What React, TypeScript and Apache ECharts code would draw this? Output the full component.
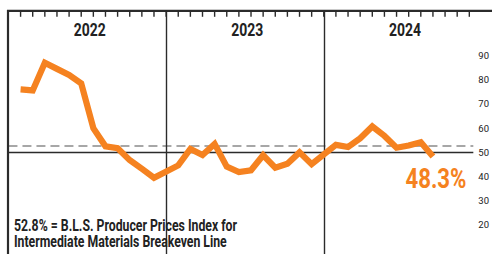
import React, { useEffect, useRef } from "react";
import * as echarts from "echarts";

const years = ["2022", "2023", "2024"];
const values2022 = [76.0, 75.6, 87.0, 84.5, 82.0, 78.5, 60.0, 52.5, 51.7, 46.8, 43.2, 39.5];
const values2023 = [44.6, 51.4, 48.9, 53.5, 44.1, 41.9, 42.6, 48.8, 43.7, 45.3, 50.0, 45.1];
const values2024 = [53.1, 52.2, 55.8, 60.7, 56.8, 51.9, 52.8, 54.2, 48.3];
const breakeven = 52.8;
const baseline = 50;
const yLabels = [20, 30, 40, 50, 60, 70, 80, 90];
const noteText = ["52.8% = B.L.S. Producer Prices Index for", "Intermediate Materials Breakeven Line"];

const SLOTS_PER_YEAR = 13; // year divider + 12 months
const TICK_COUNT = 38;
const ORANGE = "#F58220";
const DARK = "#2b2b2b";
const FONT = "Roboto, 'Liberation Sans', sans-serif";
const V_FIX = 3; // middle-align correction
const Y_MIN = 8;
const Y_MAX = 108.5;
const TICK_PX = 6;

function measure(text: string, font: string): number {
  const c = document.createElement("canvas").getContext("2d");
  if (!c) return text.length * 8;
  c.font = font;
  return c.measureText(text).width;
}

export default function App() {
  const ref = useRef<HTMLDivElement>(null);
  useEffect(() => {
    if (!ref.current) return;
    const chart = echarts.init(ref.current, null, { renderer: "svg" });
    const byYear = [values2022, values2023, values2024];
    const lineData: [number, number][] = [];
    byYear.forEach((vals, yi) => {
      vals.forEach((v, mi) => lineData.push([yi * SLOTS_PER_YEAR + mi + 1, v]));
    });
    const last = lineData[lineData.length - 1];
    const dividers = years.slice(1).map((_, i) => (i + 1) * SLOTS_PER_YEAR);

    chart.setOption({
      animation: false,
      backgroundColor: "#ffffff",
      grid: { left: 8.45, top: 10.8, width: 469.5, bottom: 0, containLabel: false },
      xAxis: {
        type: "value",
        min: 0,
        max: 38.33,
        show: false,
      },
      yAxis: {
        type: "value",
        position: "right",
        min: Y_MIN,
        max: Y_MAX,
        axisLine: { show: false },
        axisTick: { show: false },
        splitLine: { show: false },
        axisLabel: {
          show: true,
          margin: 5,
          align: "left",
          customValues: yLabels,
          fontFamily: FONT,
          fontSize: 9.5,
          color: "#222",
        },
      },
      series: [
        {
          type: "line",
          data: lineData,
          symbol: "none",
          lineStyle: { color: ORANGE, width: 6.2, join: "miter", cap: "butt" },
          z: 5,
          markLine: {
            silent: true,
            symbol: "none",
            label: { show: false },
            data: [
              { yAxis: baseline, lineStyle: { color: DARK, width: 1.3, type: "solid" } },
              { yAxis: breakeven, lineStyle: { color: "#8a8a8a", width: 1.6, type: [9, 5] } },
              ...dividers.map((d) => ({ xAxis: d, lineStyle: { color: DARK, width: 1.4, type: "solid" } })),
            ],
          },
        },
      ],
    });

    const yearFont = `bold 18px ${FONT}`;
    const yearScale = 32 / measure("2022", yearFont);
    const bigFont = `bold 28px ${FONT}`;
    const bigText = `${last[1]}%`;
    const bigScale = 61 / measure(bigText, bigFont);
    const noteFont = `bold 16px ${FONT}`;
    const noteScale = 223 / measure(noteText[0], noteFont);

    const yearEls = years.map((y, i) => {
      const [px] = chart.convertToPixel({ gridIndex: 0 }, [i * SLOTS_PER_YEAR + 6.7, 50]) as number[];
      return {
        type: "text",
        x: px,
        y: 27 + V_FIX,
        scaleX: yearScale,
        z: 10,
        style: { text: y, font: yearFont, fill: "#222", align: "center", verticalAlign: "middle" },
      };
    });
    const tickEls: any[] = [];
    for (let s = 1; s <= TICK_COUNT; s++) {
      const [tx, ty] = chart.convertToPixel({ gridIndex: 0 }, [s, Y_MAX]) as number[];
      tickEls.push({
        type: "line",
        shape: { x1: tx, y1: ty, x2: tx, y2: ty + TICK_PX },
        style: { stroke: DARK, lineWidth: 1.4 },
        z: 11,
      });
    }
    const lp = chart.convertToPixel({ gridIndex: 0 }, last) as number[];

    chart.setOption({
      graphic: [
        { type: "line", shape: { x1: 7, y1: 10.8, x2: 492, y2: 10.8 }, style: { stroke: DARK, lineWidth: 2.2 }, z: 10 },
        { type: "line", shape: { x1: 8, y1: 10, x2: 8, y2: 254 }, style: { stroke: DARK, lineWidth: 2.2 }, z: 10 },
        ...tickEls,
        ...yearEls,
        {
          type: "text",
          x: lp[0] + 3,
          y: lp[1] + 19 + V_FIX,
          scaleX: bigScale,
          z: 10,
          style: { text: bigText, font: bigFont, fill: ORANGE, align: "center", verticalAlign: "middle" },
        },
        {
          type: "text",
          x: 14,
          y: 222.8 + V_FIX,
          scaleX: noteScale,
          z: 10,
          style: { text: noteText[0], font: noteFont, fill: "#222", align: "left", verticalAlign: "middle" },
        },
        {
          type: "text",
          x: 14,
          y: 238.3 + V_FIX,
          scaleX: noteScale,
          z: 10,
          style: { text: noteText[1], font: noteFont, fill: "#222", align: "left", verticalAlign: "middle" },
        },
      ],
    });
    return () => chart.dispose();
  }, []);
  return (
    <div
      ref={ref}
      style={{ position: "fixed", left: 0, top: 0, width: 492, height: 254, background: "#fff" }}
    />
  );
}
